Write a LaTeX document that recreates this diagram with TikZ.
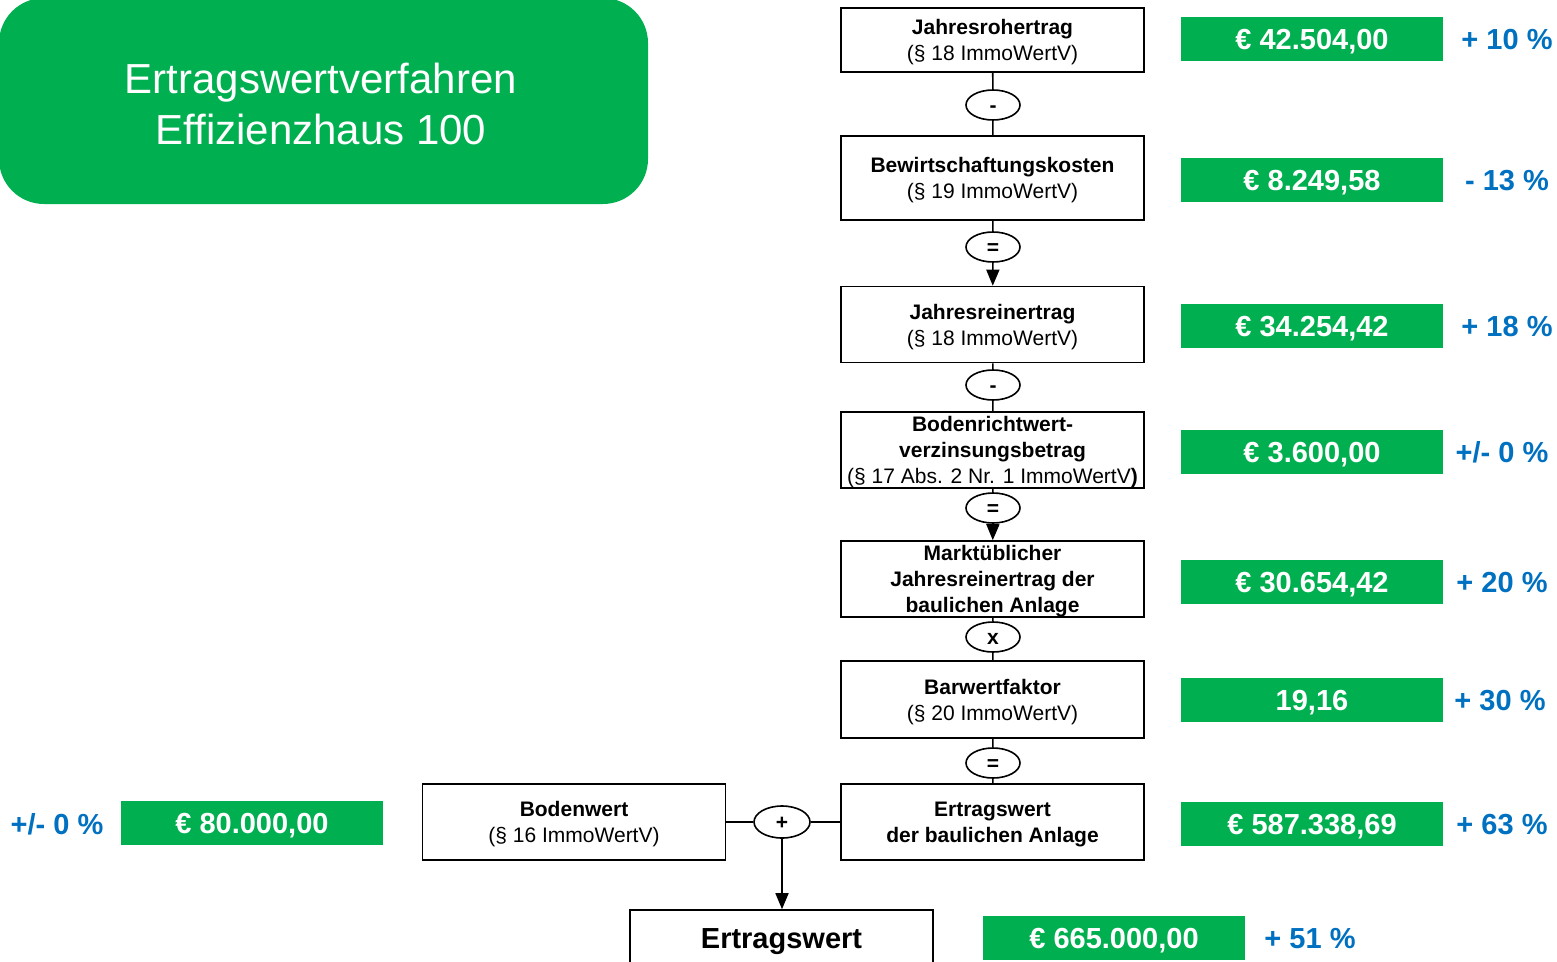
\documentclass[tikz,border=0pt]{standalone}
\usepackage{fontspec}
\setmainfont{Liberation Sans}
\usetikzlibrary{shapes.geometric,arrows.meta}
\definecolor{ewgreen}{HTML}{00B050}
\definecolor{ewblue}{HTML}{0070C0}
\begin{document}
\begin{tikzpicture}[x=1pt,y=-1pt,
  flowbox/.style={draw, line width=1.6pt, minimum width=303pt, inner sep=0pt,
    align=center, text depth=0pt, font=\fontsize{21}{26}\selectfont},
  op/.style={draw, ellipse, line width=1.6pt, minimum width=54pt, minimum height=30pt,
    inner sep=0pt, text height=14pt, text depth=0pt,
    font=\bfseries\fontsize{21}{26}\selectfont},
  valbox/.style={fill=ewgreen, text=white, minimum width=262pt, minimum height=44pt,
    inner sep=0pt, text height=21pt, text depth=0pt,
    font=\bfseries\fontsize{29}{34}\selectfont},
  pct/.style={text=ewblue, inner sep=0pt, text height=21pt, text depth=0pt,
    font=\bfseries\fontsize{29}{34}\selectfont},
  resultbox/.style={draw, line width=1.6pt, minimum width=303pt, minimum height=56pt,
    inner sep=0pt, text height=21pt, text depth=0pt,
    font=\bfseries\fontsize{29}{34}\selectfont},
  link/.style={line width=1.6pt},
  arrowlink/.style={line width=1.6pt, -{Triangle[width=13pt,length=16pt]}}
]
\useasboundingbox (0,0) rectangle (1557,961);

% title panel
\fill[ewgreen, rounded corners=45pt] (-1,-2) rectangle (648,204);
\node[text=white, align=center, font=\fontsize{42}{51}\selectfont] (title) at (321,104)
  {Ertragswertverfahren\\Effizienzhaus 100};

% calculation chain
\node[flowbox, minimum height=64pt] (b1) at (992.5,40)
  {\textbf{Jahresrohertrag}\\(§ 18 ImmoWertV)};
\node[op] (e1) at (993,105) {-};
\node[flowbox, minimum height=84pt] (b2) at (992.5,178)
  {\textbf{Bewirtschaftungskosten}\\(§ 19 ImmoWertV)};
\node[op] (e2) at (993,247) {=};
\node[flowbox, minimum height=76pt] (b3) at (992.5,324.5)
  {\textbf{Jahresreinertrag}\\(§ 18 ImmoWertV)};
\node[op] (e3) at (993,385) {-};
\node[flowbox, minimum height=76pt] (b4) at (992.5,450)
  {\textbf{Bodenrichtwert-}\\\textbf{verzinsungsbetrag}\\(§ 17 Abs. 2 Nr. 1 ImmoWertV\textbf{)}};
\node[op] (e4) at (993,508) {=};
\node[flowbox, minimum height=76pt] (b5) at (992.5,579)
  {\textbf{Marktüblicher}\\\textbf{Jahresreinertrag der}\\\textbf{baulichen Anlage}};
\node[op] (e5) at (993,637) {x};
\node[flowbox, minimum height=77pt] (b6) at (992.5,699.5)
  {\textbf{Barwertfaktor}\\(§ 20 ImmoWertV)};
\node[op] (e6) at (993,763) {=};
\node[flowbox, minimum height=76pt] (b7) at (992.5,822)
  {\textbf{Ertragswert}\\\textbf{der baulichen Anlage}};

\node[flowbox, minimum height=76pt] (bw) at (574,822)
  {\textbf{Bodenwert}\\(§ 16 ImmoWertV)};
\node[op, minimum width=56pt, minimum height=32pt] (plus) at (782,822) {+};
\node[resultbox] (ew) at (781.5,938) {Ertragswert};

\draw[link] (b1) -- (e1);
\draw[link] (e1) -- (b2);
\draw[link] (b2) -- (e2);
\draw[arrowlink] (e2) -- (b3);
\draw[link] (b3) -- (e3);
\draw[link] (e3) -- (b4);
\draw[link] (b4) -- (e4);
\draw[arrowlink] (e4) -- (b5);
\draw[link] (b5) -- (e5);
\draw[link] (e5) -- (b6);
\draw[link] (b6) -- (e6);
\draw[link] (e6) -- (b7);
\draw[link] (bw) -- (plus);
\draw[link] (plus) -- (b7);
\draw[arrowlink] (plus) -- (plus |- ew.north);

% values and changes
\node[valbox] (v1) at (1312,39) {€ 42.504,00};
\node[pct] (p1) at (1507,39) {+ 10 \%};
\node[valbox] (v2) at (1312,180) {€ 8.249,58};
\node[pct] (p2) at (1507,180) {- 13 \%};
\node[valbox] (v3) at (1312,326) {€ 34.254,42};
\node[pct] (p3) at (1507,326) {+ 18 \%};
\node[valbox] (v4) at (1312,451.5) {€ 3.600,00};
\node[pct] (p4) at (1502,451.5) {+/- 0 \%};
\node[valbox] (v5) at (1312,581.5) {€ 30.654,42};
\node[pct] (p5) at (1502,581.5) {+ 20 \%};
\node[valbox] (v6) at (1312,699.5) {19,16};
\node[pct] (p6) at (1500,699.5) {+ 30 \%};
\node[valbox] (v7) at (1312,824) {€ 587.338,69};
\node[pct] (p7) at (1502,824) {+ 63 \%};
\node[valbox] (v8) at (252,823) {€ 80.000,00};
\node[pct] (p8) at (57,824) {+/- 0 \%};
\node[valbox] (v9) at (1114,938) {€ 665.000,00};
\node[pct] (p9) at (1310,938) {+ 51 \%};
\end{tikzpicture}
\end{document}
